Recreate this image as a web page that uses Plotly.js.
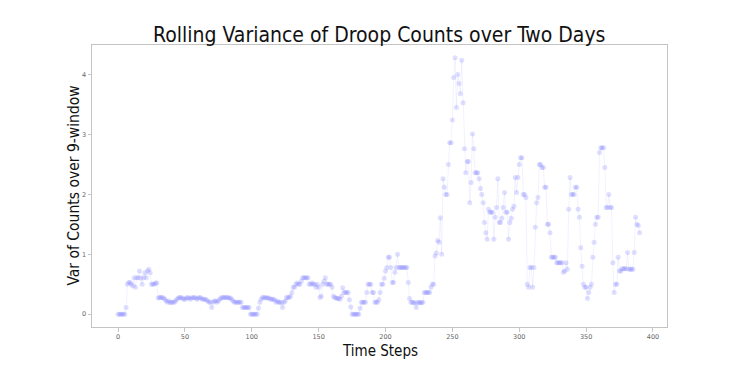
<!DOCTYPE html>
<html>
<head>
<meta charset="utf-8">
<script src="https://cdn.plot.ly/plotly-3.0.1.min.js"></script>
<style>html,body{margin:0;padding:0;background:#fff;}#chart{width:740px;height:367px;}</style>
</head>
<body>
<div id="chart"></div>
<script>
// Rolling variance values, one per time step (0..390)
const var000 = [0,0,0,0,0,0,0.11,0.5,0.53,0.53, 0.5,0.47,0.61,0.45,0.61,0.61,0.72,0.6,0.5,0.61];
const var020 = [0.69,0.61,0.72,0.75,0.69,0.5,0.5,0.5,0.52,0.52, 0.27,0.28,0.28,0.28,0.27,0.25,0.22,0.2,0.22,0.19];
const var040 = [0.2,0.2,0.2,0.22,0.25,0.27,0.28,0.28,0.27,0.25, 0.25,0.27,0.28,0.27,0.25,0.27,0.28,0.28,0.27,0.25];
const var060 = [0.27,0.28,0.27,0.25,0.25,0.25,0.24,0.22,0.2,0.2, 0.11,0.2,0.22,0.22,0.2,0.22,0.25,0.27,0.28,0.28];
const var080 = [0.28,0.28,0.28,0.27,0.27,0.25,0.22,0.2,0.2,0.2, 0.2,0.2,0.2,0.11,0.11,0.11,0.11,0.11,0.11,0];
const var100 = [0,0,0,0,0,0.1,0.2,0.25,0.28,0.28, 0.28,0.27,0.27,0.27,0.25,0.25,0.25,0.24,0.2,0.22];
const var120 = [0.2,0.2,0.19,0.11,0.2,0.22,0.28,0.28,0.28,0.3, 0.36,0.45,0.45,0.5,0.52,0.5,0.5,0.55,0.61,0.61];
const var140 = [0.61,0.61,0.61,0.5,0.5,0.52,0.5,0.5,0.45,0.5, 0.45,0.28,0.3,0.5,0.55,0.61,0.5,0.5,0.5,0.5];
const var160 = [0.45,0.3,0.28,0.27,0.26,0.26,0.25,0.3,0.44,0.36, 0.36,0.36,0.36,0.24,0.12,0,0,0,0,0];
const var180 = [0,0.1,0.2,0.2,0.2,0.2,0.36,0.5,0.5,0.5, 0.36,0.36,0.2,0.2,0.2,0.24,0.36,0.5,0.5,0.6];
const var200 = [0.72,0.78,0.95,0.95,0.78,0.53,0.53,0.7,0.78,1.0, 0.78,0.78,0.78,0.78,0.78,0.78,0.78,0.53,0.26,0.2];
const var220 = [0.2,0.19,0.19,0.11,0.19,0.2,0.19,0.19,0.2,0.36, 0.36,0.36,0.36,0.36,0.45,0.5,0.5,0.97,1.02,1.23];
const var240 = [1.2,1.61,1.0,2.26,2.12,2.0,2.0,2.5,2.86,2.86, 3.24,3.95,4.28,3.45,4.0,3.85,3.68,4.24,3.53,2.76];
const var260 = [2.36,2.55,2.55,1.86,2.2,3.01,2.76,2.36,2.36,2.36, 2.26,2.1,2.0,1.86,1.53,1.36,1.25,1.75,1.7,1.7];
const var280 = [1.7,1.25,1.62,1.78,2.26,1.53,1.53,1.6,1.78,2.03, 1.7,1.7,1.25,1.53,1.6,1.75,1.8,2.28,2.03,2.28];
const var300 = [2.5,2.61,2.61,2.0,2.0,1.95,0.5,0.45,0.78,0.78, 0.45,0.78,1.45,1.86,1.95,2.5,2.5,2.45,2.45,2.12];
const var320 = [2.12,1.5,1.5,1.36,0.95,0.95,0.95,0.95,0.86,0.86, 0.86,0.86,0.86,0.7,0.72,0.86,0.75,1.75,2.28,2.0];
const var340 = [2.0,2.0,2.12,2.12,1.75,1.62,1.11,0.8,0.5,0.45, 0.45,0.26,0.36,0.45,0.5,0.95,1.2,1.5,1.62,1.62];
const var360 = [2.7,2.78,2.78,2.78,2.45,1.78,1.78,2.0,1.78,1.78, 0.86,0.36,0.5,0.5,0.95,0.72,0.72,0.76,0.76,0.76];
const var380 = [0.76,1.03,0.75,0.75,0.75,0.75,1.03,1.62,1.5,1.48, 1.36];

const variance = [].concat(var000,var020,var040,var060,var080,var100,var120,var140,var160,var180,
  var200,var220,var240,var260,var280,var300,var320,var340,var360,var380);
const timeSteps = variance.map((_, i) => i);

const xTicks = [0,50,100,150,200,250,300,350,400];
const yTicks = [0,1,2,3,4];

const titleText = 'Rolling Variance of Droop Counts over Two Days';
const xTitleText = 'Time Steps';
const yTitleText = 'Var of Counts over 9-window';

const trace = {
  x: timeSteps,
  y: variance,
  type: 'scatter',
  mode: 'lines+markers',
  line: {color: 'rgba(170,170,255,0.2)', width: 0.8},
  marker: {symbol: 'circle', size: 5, color: 'rgba(120,120,255,0.24)', line: {width: 0}},
  hoverinfo: 'skip'
};

const axisCommon = {
  showgrid: false, zeroline: false, showline: true, mirror: true,
  linecolor: '#c4c4c4', linewidth: 1,
  ticks: 'outside', ticklen: 3.5, tickwidth: 0.8, tickcolor: '#b8b8b8',
  tickfont: {family: 'DejaVu Sans', size: 6.5, color: '#666'}
};

const titleFont = {family: 'DejaVu Sans Condensed, DejaVu Sans', color: '#111'};

const layout = {
  width: 740, height: 367,
  paper_bgcolor: '#fff', plot_bgcolor: '#fff',
  margin: {l: 92, r: 73, t: 45, b: 40},
  showlegend: false,
  title: {
    text: titleText,
    font: Object.assign({size: 21}, titleFont),
    x: 0.5125, xanchor: 'center', y: 0.905, yanchor: 'middle'
  },
  xaxis: Object.assign({}, axisCommon, {
    range: [-19.5, 410.5],
    tickvals: xTicks, ticktext: xTicks.map(String)
  }),
  yaxis: Object.assign({}, axisCommon, {
    range: [-0.214, 4.494],
    tickvals: yTicks, ticktext: yTicks.map(String)
  }),
  annotations: [
    {text: xTitleText, xref: 'paper', yref: 'paper', x: 0.501, y: -0.086,
     xanchor: 'center', yanchor: 'middle', showarrow: false, borderpad: 0,
     font: Object.assign({size: 15}, titleFont)},
    {text: yTitleText, xref: 'paper', yref: 'paper', x: -0.031, y: 0.502,
     xanchor: 'center', yanchor: 'middle', showarrow: false, textangle: -90, borderpad: 0,
     font: Object.assign({size: 15.5}, titleFont)}
  ]
};

Plotly.newPlot('chart', [trace], layout, {displayModeBar: false, staticPlot: true});
</script>
</body>
</html>
